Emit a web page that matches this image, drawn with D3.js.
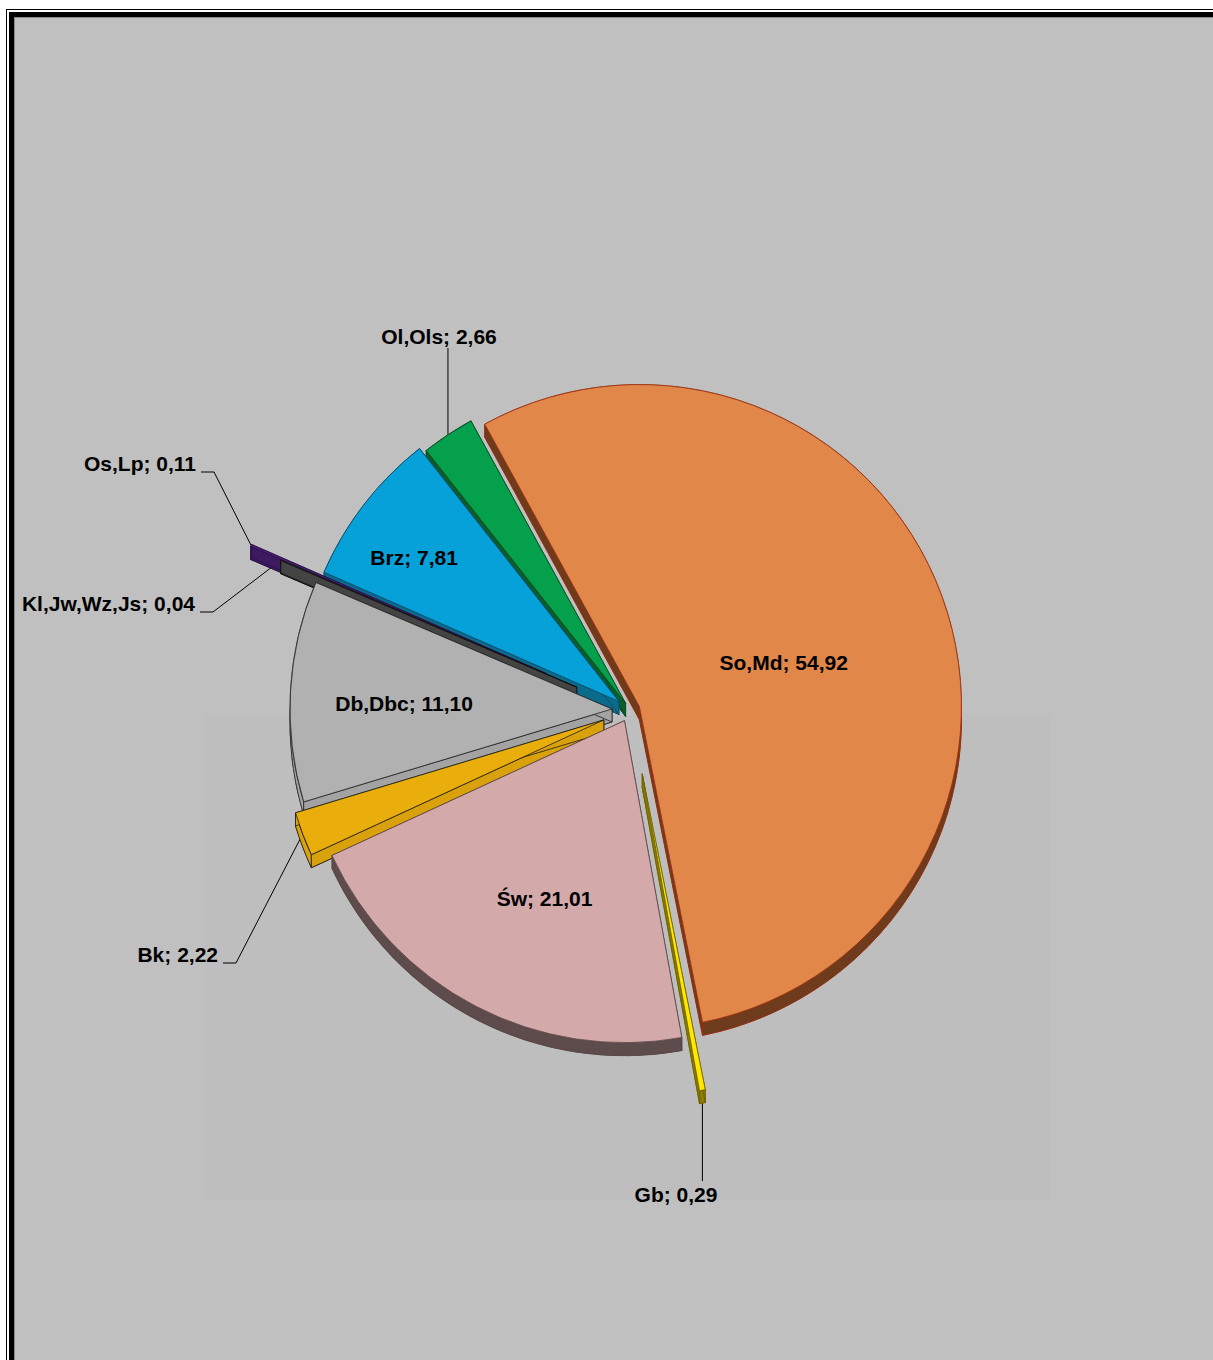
<!DOCTYPE html>
<html><head><meta charset="utf-8">
<script src="https://cdn.jsdelivr.net/npm/d3@7"></script>
<style>html,body{margin:0;padding:0;background:#fff;} svg{display:block;}</style>
</head><body>
<svg id="chart" width="1213" height="1360"></svg>
<script>
// ---- data ----
const categories = ["So,Md", "Gb", "Św", "Bk", "Db,Dbc", "Kl,Jw,Wz,Js", "Os,Lp", "Brz", "Ol,Ols"];
const values = [54.92, 0.29, 21.01, 2.22, 11.10, 0.04, 0.11, 7.81, 2.66];

// ---- layout / style config ----
const W = 1213, H = 1360;
const cx = 630, cy = 710, R = 322, depth = 13, startDeg = -28.7;
const explode = [10, 65, 12, 28, 18, 58, 91, 14, 8];
const faceColors = ["#E2874A", "#FFE800", "#D4A9AA", "#E9AE0C", "#B1B1B1", "#505050", "#4C2278", "#07A1DA", "#05A04B"];
const wallColors = ["#6E3B1C", "#8C7B00", "#5E4B4C", "#D9A20C", "#A3A3A3", "#444444", "#3E1B60", "#0B6B8C", "#0D5C2B"];
const edgeColors = ["#9A3010", "#6E6000", "#5B4546", "#1A1A1A", "#222222", "#111111", "#2A0F45", "#0A4A66", "#0B4A22"];
// inside labels: [slice index, radius from slice tip, angle shift (deg)]
const insideLabels = [[0, 151, 2.9], [2, 195, -3.3], [4, 208, -1.8], [7, 250, -2.7]];
// outside labels: slice index, text anchor point, anchor type, leader bend point
const outsideLabels = [
  {i: 8, x: 439, y: 337, anchor: "middle", path: "vertical", endY: 348},
  {i: 6, x: 196, y: 464, anchor: "end"},
  {i: 5, x: 195, y: 604, anchor: "end"},
  {i: 3, x: 218, y: 955, anchor: "end"},
  {i: 1, x: 676, y: 1195, anchor: "middle", path: "vertical", endY: 1181}
];

const locale = d3.formatLocale({decimal: ",", thousands: " ", grouping: [3], currency: ["", ""]});
const fmt = locale.format(".2f");

const svg = d3.select("#chart");

// ---- frame ----
svg.append("rect").attr("x", 0).attr("y", 0).attr("width", W).attr("height", H).attr("fill", "#fff");
svg.append("rect").attr("x", 6.5).attr("y", 9.5).attr("width", W + 20).attr("height", H + 20)
  .attr("fill", "none").attr("stroke", "#000").attr("stroke-width", 1);
svg.append("rect").attr("x", 11.5).attr("y", 14.5).attr("width", W + 20).attr("height", H + 20)
  .attr("fill", "#C0C0C0").attr("stroke", "#000").attr("stroke-width", 5);
svg.append("rect").attr("x", 14.5).attr("y", 17.5).attr("width", W + 20).attr("height", H + 20)
  .attr("fill", "#C0C0C0").attr("stroke", "#8a8a8a").attr("stroke-width", 1);
// faint plot floor
svg.append("rect").attr("x", 205).attr("y", 715).attr("width", 845).attr("height", 485)
  .attr("fill", "#BEBEBE");

// ---- pie geometry ----
const toRad = d => d * Math.PI / 180;
const pie = d3.pie().sort(null).value(d => d)
  .startAngle(toRad(startDeg)).endAngle(toRad(startDeg) + 2 * Math.PI);
const arcs = pie(values);
const arcGen = d3.arc().innerRadius(0).outerRadius(R);
const u = a => [Math.sin(a), -Math.cos(a)];

const slices = arcs.map((a, i) => {
  const mid = (a.startAngle + a.endAngle) / 2;
  const m = u(mid);
  const V = [cx + explode[i] * m[0], cy + explode[i] * m[1]];
  return {a, i, mid, V};
});

// ---- leader lines (drawn under slices) ----
const gLead = svg.append("g").attr("fill", "none").attr("stroke", "#000").attr("stroke-width", 1);
const textW = {};
outsideLabels.forEach(L => {
  const s = slices[L.i];
  const m = u(s.mid);
  const P = [s.V[0] + R * m[0], s.V[1] + R * m[1]];
  let pts;
  if (L.path === "vertical") {
    pts = [P, [P[0], L.endY]];
  } else {
    const ly = L.y + 8;
    pts = [P, [L.x + 18, ly], [L.x + 5, ly]];
  }
  gLead.append("path").attr("d", d3.line()(pts));
});

// ---- slices back to front ----
const order = slices.slice().sort((p, q) => (-Math.cos(p.mid)) - (-Math.cos(q.mid)));
const gPie = svg.append("g");
order.forEach(s => {
  const {a, i, V} = s;
  const g = gPie.append("g");
  const wall = wallColors[i], edge = edgeColors[i];
  const n = Math.max(2, Math.ceil((a.endAngle - a.startAngle) / toRad(0.5)));
  const top = d3.range(n + 1).map(k => {
    const t = a.startAngle + (a.endAngle - a.startAngle) * k / n;
    const m = u(t);
    return [V[0] + R * m[0], V[1] + R * m[1]];
  });
  const bot = top.map(p => [p[0], p[1] + depth]);
  const Vb = [V[0], V[1] + depth];
  const styleWall = sel => sel.attr("fill", wall).attr("stroke", edge).attr("stroke-width", 0.8).attr("stroke-linejoin", "round");
  // bottom face
  g.append("path").attr("d", arcGen(a)).attr("transform", `translate(${Vb[0]},${Vb[1]})`).call(styleWall);
  // outer band
  g.append("path").attr("d", d3.line()(top.concat(bot.slice().reverse())) + "Z").call(styleWall);
  // radial walls
  g.append("path").attr("d", d3.line()([V, top[0], bot[0], Vb]) + "Z").call(styleWall);
  g.append("path").attr("d", d3.line()([V, top[n], bot[n], Vb]) + "Z").call(styleWall);
  // top face
  g.append("path").attr("d", arcGen(a)).attr("transform", `translate(${V[0]},${V[1]})`)
    .attr("fill", faceColors[i]).attr("stroke", edge).attr("stroke-width", 0.8).attr("stroke-linejoin", "round");
});

// ---- labels ----
const gText = svg.append("g")
  .attr("font-family", "'Liberation Sans', Arial, Helvetica, sans-serif")
  .attr("font-weight", "bold").attr("font-size", 21).attr("fill", "#000");
const labelText = i => `${categories[i]}; ${fmt(values[i])}`;
insideLabels.forEach(([i, r, shift]) => {
  const s = slices[i];
  const m = u(s.mid + toRad(shift));
  gText.append("text").attr("x", s.V[0] + r * m[0]).attr("y", s.V[1] + r * m[1])
    .attr("dy", "0.35em").attr("text-anchor", "middle").text(labelText(i));
});
outsideLabels.forEach(L => {
  gText.append("text").attr("x", L.x).attr("y", L.y).attr("dy", "0.35em")
    .attr("text-anchor", L.anchor).text(labelText(L.i));
});
</script>
</body></html>
